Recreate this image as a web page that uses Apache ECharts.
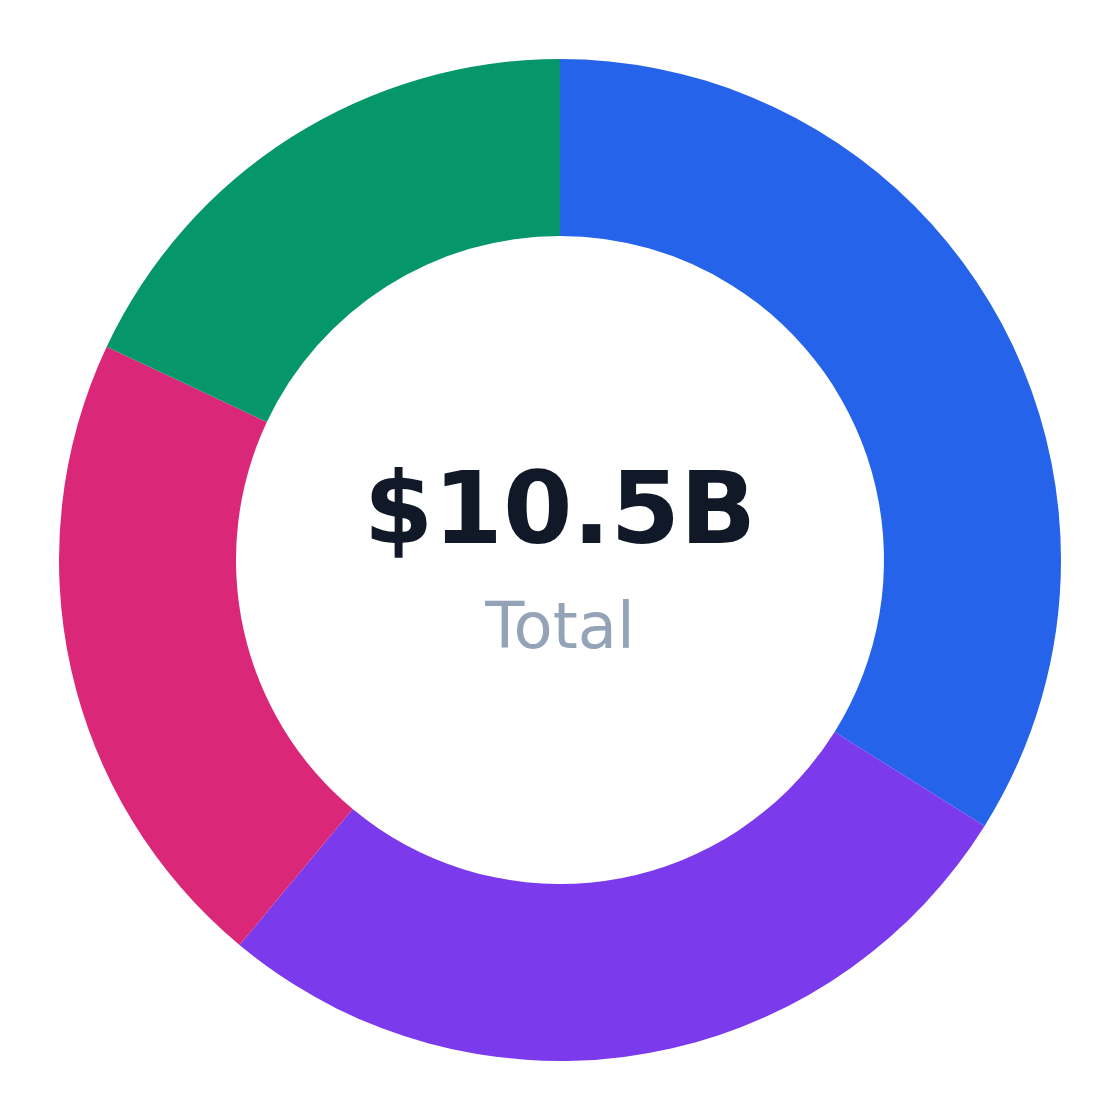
<!DOCTYPE html>
<html lang="en">
<head>
    <meta charset="UTF-8">
    <title>Total donut</title>
    <script src="https://cdn.jsdelivr.net/npm/echarts@6/dist/echarts.min.js"></script>
    <style>
        html, body { margin: 0; padding: 0; background: #fff; }
    </style>
</head>
<body>
    <div id="main" style="width:1120px;height:1120px;"></div>
    <script>
        // slices, clockwise from 12 o'clock (values in $B)
        let names = ['A', 'B', 'C', 'D'];
        let values = [3.56, 2.85, 2.2, 1.89];
        let colors = ['#2563eb', '#7c3aed', '#db2777', '#059669'];
        let totalText = '$10.5B';
        let subText = 'Total';

        let chart = echarts.init(document.getElementById('main'));

        chart.setOption({
            backgroundColor: '#ffffff',
            animation: false,
            graphic: [
                {
                    type: 'text',
                    left: 'center',
                    top: 467,
                    style: {
                        text: totalText,
                        fontFamily: 'DejaVu Sans',
                        fontWeight: 'bold',
                        fontSize: 100,
                        fill: '#111827'
                    }
                },
                {
                    type: 'text',
                    left: 'center',
                    top: 599,
                    style: {
                        text: subText,
                        fontFamily: 'DejaVu Sans',
                        fontSize: 64,
                        fill: '#94a3b8'
                    }
                }
            ],
            series: [{
                type: 'pie',
                center: ['50%', '50%'],
                radius: [324, 501],
                startAngle: 90,
                clockwise: true,
                label: { show: false },
                labelLine: { show: false },
                emphasis: { disabled: true },
                itemStyle: { borderWidth: 0 },
                data: names.map(function (n, i) {
                    return { name: n, value: values[i], itemStyle: { color: colors[i] } };
                })
            }]
        });
    </script>
</body>
</html>
